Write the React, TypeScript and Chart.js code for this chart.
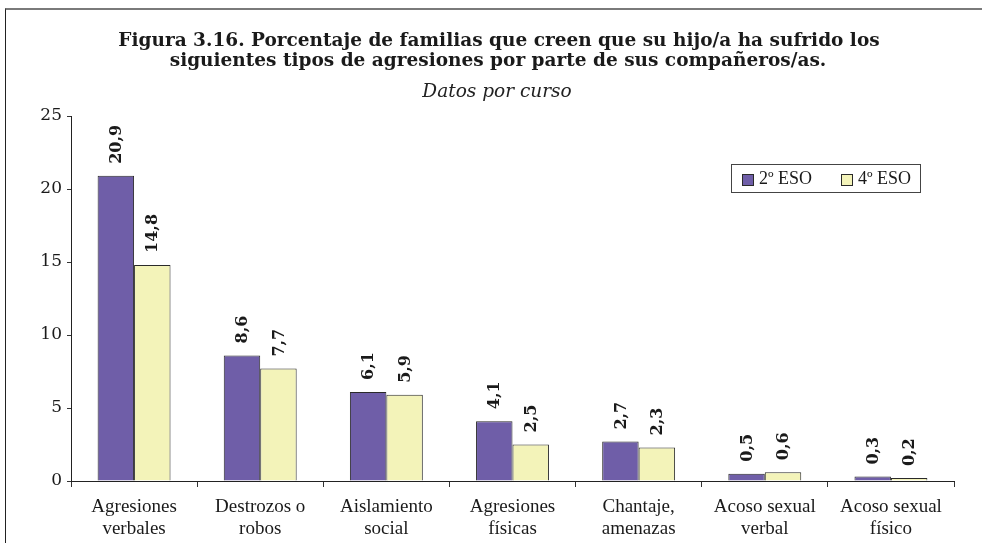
import React, { useEffect, useRef } from "react";
import { Chart, registerables } from "chart.js";

Chart.register(...registerables);

const titleLines = [
  "Figura 3.16. Porcentaje de familias que creen que su hijo/a ha sufrido los",
  "siguientes tipos de agresiones por parte de sus compañeros/as.",
];
const subtitleText = "Datos por curso";

const categories = [
  ["Agresiones", "verbales"],
  ["Destrozos o", "robos"],
  ["Aislamiento", "social"],
  ["Agresiones", "físicas"],
  ["Chantaje,", "amenazas"],
  ["Acoso sexual", "verbal"],
  ["Acoso sexual", "físico"],
];
const seriesNames = ["2º ESO", "4º ESO"];
const eso2 = [20.9, 8.6, 6.1, 4.1, 2.7, 0.5, 0.3];
const eso4 = [14.8, 7.7, 5.9, 2.5, 2.3, 0.6, 0.2];
const yTicks = [0, 5, 10, 15, 20, 25];

const PURPLE = "#6f5ea8";
const YELLOW = "#f3f3b9";
const EDGE = "#2a2a2a";

const fmt = (v: number) => v.toFixed(1).replace(".", ",");

const titlePlugin = {
  id: "customTitle",
  afterDraw(chart: any) {
    const ctx = chart.ctx;
    const cx = chart.width / 2 + 8;
    ctx.save();
    ctx.fillStyle = "#1a1a1a";
    ctx.textAlign = "center";
    ctx.textBaseline = "alphabetic";
    ctx.font = "bold 18.5px 'DejaVu Serif'";
    ctx.fillText(titleLines[0], cx, 46);
    ctx.fillText(titleLines[1], cx - 1, 66);
    ctx.font = "italic 18.5px 'DejaVu Serif'";
    ctx.fillStyle = "#222";
    ctx.fillText(subtitleText, cx - 2, 97);
    ctx.restore();
  },
};

const legendPlugin = {
  id: "boxLegend",
  afterDraw(chart: any) {
    const ctx = chart.ctx;
    const x0 = 731;
    const y0 = 164;
    const w = 189;
    const h = 28;
    ctx.save();
    ctx.fillStyle = "#ffffff";
    ctx.fillRect(x0, y0, w, h);
    ctx.strokeStyle = "#444";
    ctx.lineWidth = 1;
    ctx.strokeRect(x0 + 0.5, y0 + 0.5, w, h);
    const items = [
      { x: 742, color: PURPLE, text: seriesNames[0] },
      { x: 841, color: YELLOW, text: seriesNames[1] },
    ];
    ctx.font = "18px 'Liberation Serif'";
    ctx.textBaseline = "middle";
    ctx.textAlign = "left";
    items.forEach((it) => {
      ctx.fillStyle = it.color;
      ctx.fillRect(it.x, y0 + 10, 11, 11);
      ctx.strokeStyle = EDGE;
      ctx.strokeRect(it.x + 0.5, y0 + 10.5, 11, 11);
      ctx.fillStyle = "#1a1a1a";
      ctx.fillText(it.text, it.x + 17, y0 + 15);
    });
    ctx.restore();
  },
};

const dataLabelPlugin = {
  id: "barLabels",
  afterDatasetsDraw(chart: any) {
    const ctx = chart.ctx;
    ctx.save();
    ctx.fillStyle = "#1a1a1a";
    ctx.font = "bold 16px 'DejaVu Serif'";
    ctx.textAlign = "left";
    ctx.textBaseline = "middle";
    chart.data.datasets.forEach((ds: any, di: number) => {
      const meta = chart.getDatasetMeta(di);
      meta.data.forEach((bar: any, i: number) => {
        ctx.save();
        ctx.translate(bar.x, bar.y - 12);
        ctx.rotate(-Math.PI / 2);
        ctx.fillText(fmt(ds.data[i]), 0, 1);
        ctx.restore();
      });
    });
    ctx.restore();
  },
};

export default function App() {
  const ref = useRef<HTMLCanvasElement | null>(null);

  useEffect(() => {
    if (!ref.current) return;
    const chart = new Chart(ref.current, {
      type: "bar",
      data: {
        labels: categories,
        datasets: [
          {
            label: seriesNames[0],
            data: eso2,
            backgroundColor: PURPLE,
            borderColor: EDGE,
            borderWidth: 1,
            categoryPercentage: 0.578,
            barPercentage: 1,
          },
          {
            label: seriesNames[1],
            data: eso4,
            backgroundColor: YELLOW,
            borderColor: EDGE,
            borderWidth: 1,
            categoryPercentage: 0.578,
            barPercentage: 1,
          },
        ],
      },
      options: {
        animation: false,
        responsive: false,
        maintainAspectRatio: false,
        layout: { padding: { top: 116, right: 28, left: 0, bottom: 0 } },
        plugins: {
          legend: { display: false },
          title: { display: false },
          tooltip: { enabled: false },
        },
        scales: {
          x: {
            grid: {
              display: true,
              offset: true,
              drawOnChartArea: false,
              drawTicks: true,
              tickLength: 6,
              color: "#333",
            },
            border: { display: true, color: "#222", width: 1 },
            ticks: {
              color: "#1a1a1a",
              font: { family: "'Liberation Serif'", size: 19, lineHeight: 1.16 },
              padding: 9,
              maxRotation: 0,
              autoSkip: false,
            },
            afterFit(scale: any) {
              scale.height = 62;
            },
          },
          y: {
            min: 0,
            max: 25,
            afterBuildTicks(scale: any) {
              scale.ticks = yTicks.map((v) => ({ value: v }));
            },
            grid: {
              display: true,
              drawOnChartArea: false,
              drawTicks: true,
              tickLength: 4,
              color: "#333",
            },
            border: { display: true, color: "#222", width: 1 },
            ticks: {
              color: "#1a1a1a",
              font: { family: "'DejaVu Serif'", size: 17 },
              padding: 5,
            },
            afterFit(scale: any) {
              scale.width = 71;
            },
          },
        },
      },
      plugins: [dataLabelPlugin, titlePlugin, legendPlugin],
    });
    return () => chart.destroy();
  }, []);

  return (
    <div
      style={{
        position: "fixed",
        left: 0,
        top: 0,
        width: 982,
        height: 543,
        background: "#ffffff",
        overflow: "hidden",
      }}
    >
      <div
        style={{
          position: "absolute",
          left: 5,
          top: 8,
          width: 1000,
          height: 600,
          borderTop: "2px solid #7a7a7a",
          borderLeft: "1.5px solid #222",
        }}
      />
      <canvas
        ref={ref}
        width={982}
        height={543}
        style={{ position: "absolute", left: 0, top: 0, width: 982, height: 543 }}
      />
    </div>
  );
}
